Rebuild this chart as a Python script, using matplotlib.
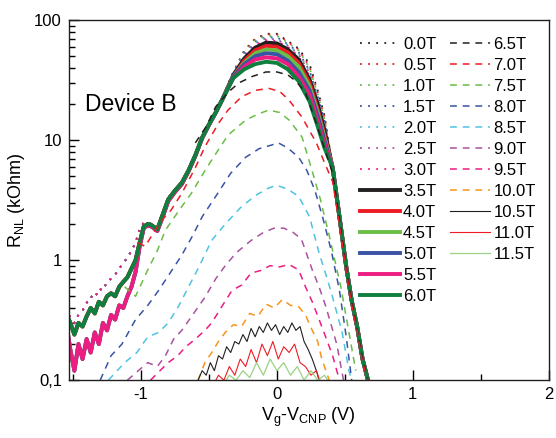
import matplotlib
matplotlib.use('Agg')
import matplotlib.pyplot as plt
from matplotlib.ticker import FixedLocator, LogLocator, NullFormatter

plt.rcParams['font.family'] = ['Liberation Sans', 'DejaVu Sans']
plt.rcParams['mathtext.default'] = 'regular'
plt.rcParams['axes.unicode_minus'] = False

# ---- data (x in V, R in kOhm) ----
# left flank of the 0.0T..6.0T bundle (three variants of the noisy tail)
left_x = [-1.55, -1.52, -1.49, -1.46, -1.43, -1.40, -1.37, -1.34, -1.31, -1.28, -1.25,
          -1.22, -1.19, -1.16, -1.13, -1.10, -1.07, -1.04, -1.01, -0.98, -0.95, -0.92,
          -0.88, -0.84, -0.80, -0.75, -0.70, -0.65, -0.60, -0.55, -0.50, -0.45]
left_r = [0.36, 0.3, 0.24, 0.3, 0.28, 0.34, 0.4, 0.36, 0.45, 0.42, 0.5,
          0.53, 0.5, 0.6, 0.66, 0.72, 0.85, 1.0, 1.4, 1.9, 2.0, 1.95,
          1.8, 2.4, 3.2, 3.8, 4.4, 5.6, 7.5, 10.5, 13.5, 17]
left_r_low = [0.3, 0.18, 0.12, 0.2, 0.15, 0.22, 0.17, 0.25, 0.2, 0.3, 0.26,
              0.35, 0.32, 0.42, 0.4, 0.5, 0.6, 0.8, 1.3, 1.85, 1.95, 1.9,
              1.75, 2.3, 3.1, 3.7, 4.3, 5.5, 7.4, 10.4, 13.4, 17]
left_r_dot = [0.4, 0.33, 0.3, 0.35, 0.38, 0.44, 0.5, 0.48, 0.58, 0.56, 0.66,
              0.7, 0.76, 0.85, 0.95, 1.05, 1.2, 1.4, 1.8, 2.05, 2.05, 2.0,
              1.9, 2.5, 3.3, 3.9, 4.5, 5.7, 7.6, 10.6, 13.6, 17]
# peak part, one row per field
peak_x = [-0.40, -0.32, -0.24, -0.16, -0.08, 0.0, 0.08, 0.16, 0.24, 0.30, 0.35]
r_00 = [23, 37, 56, 70, 77, 77, 67, 58, 43, 26, 16]
r_05 = [23, 37, 55, 69, 76, 76, 66, 57, 41, 25, 15.5]
r_10 = [23, 36, 54, 68, 74, 74, 65, 56, 40, 24, 15]
r_15 = [23, 36, 53, 66, 72, 72, 63, 54, 38, 23, 14.5]
r_20 = [23, 36, 52, 65, 71, 70, 62, 53, 37, 23, 14]
r_25 = [23, 35, 51, 64, 70, 69, 61, 52, 36, 22, 13.5]
r_30 = [23, 35, 50, 62, 68, 67, 60, 50, 34, 21, 13]
r_35 = [22, 35, 48, 59, 65, 64, 57, 47, 32, 20, 12]
r_40 = [22, 34, 46, 56, 61, 60, 54, 44, 30, 18, 11]
r_45 = [22, 34, 44, 53, 57, 56, 50, 41, 28, 17, 10.5]
r_50 = [22, 34, 43, 50, 53, 52, 46, 37, 26, 16, 10]
r_55 = [22, 33, 41, 47, 49, 48, 43, 34, 24, 14.5, 9.3]
r_60 = [22, 33, 39, 43, 45, 44, 39, 31, 21, 13, 8.6]
# shared right flank
right_x = [0.41, 0.46, 0.51, 0.55, 0.59, 0.63, 0.67, 0.72]
right_r = [5.9, 2.3, 0.88, 0.46, 0.28, 0.15, 0.1, 0.08]

# high-field curves
x_65 = [-0.60, -0.52, -0.45, -0.36, -0.28, -0.18, -0.08, 0.0, 0.08, 0.14, 0.21,
        0.29, 0.35, 0.41, 0.46, 0.51, 0.55, 0.59, 0.63, 0.67]
r_65 = [9.5, 13, 19, 25, 30, 34, 37, 37, 35, 31, 25,
        13.8, 8.5, 5.3, 2.2, 0.85, 0.45, 0.27, 0.15, 0.1]
x_70 = [-1.02, -0.97, -0.90, -0.84, -0.78, -0.70, -0.60, -0.53, -0.43, -0.36, -0.26,
        -0.16, -0.06, 0.02, 0.09, 0.185, 0.24, 0.29, 0.35, 0.41, 0.46, 0.51, 0.55,
        0.59, 0.63, 0.67]
r_70 = [1.4, 1.3, 1.75, 2.2, 2.6, 3.6, 5.9, 8.8, 13.8, 17.8, 23,
        26, 27, 25.5, 21.5, 15.5, 12, 9.5, 6.5, 4.5, 2.0, 0.8, 0.42,
        0.26, 0.14, 0.1]
x_75 = [-1.12, -1.04, -0.95, -0.88, -0.82, -0.72, -0.63, -0.52, -0.44, -0.36, -0.23,
        -0.14, -0.06, 0.02, 0.09, 0.185, 0.26, 0.32, 0.385, 0.47, 0.53, 0.58]
r_75 = [0.6, 0.5, 0.83, 1.2, 1.78, 2.6, 3.6, 5.8, 8, 11, 14.7,
        16.5, 17.8, 17, 14.7, 10.6, 5.5, 3.2, 1.6, 0.6, 0.25, 0.12]
x_80 = [-1.30, -1.22, -1.14, -1.04, -0.95, -0.87, -0.78, -0.70, -0.62, -0.55, -0.45,
        -0.34, -0.23, -0.13, -0.04, 0.01, 0.08, 0.16, 0.22, 0.28, 0.34, 0.40, 0.46,
        0.51, 0.55]
r_80 = [0.1, 0.16, 0.2, 0.32, 0.42, 0.56, 0.8, 1.1, 1.6, 2.3, 3.4,
        5.3, 7.2, 8.5, 9.1, 9.5, 8.6, 7.2, 5.6, 3.8, 2.2, 1.2, 0.56,
        0.23, 0.1]
x_85 = [-1.24, -1.12, -1.03, -0.95, -0.87, -0.80, -0.72, -0.65, -0.58, -0.48, -0.38,
        -0.26, -0.15, -0.06, 0.0, 0.08, 0.16, 0.24, 0.31, 0.37, 0.41, 0.48, 0.53, 0.56]
r_85 = [0.1, 0.14, 0.17, 0.23, 0.25, 0.3, 0.42, 0.6, 0.85, 1.46, 2.0,
        2.8, 3.5, 4.0, 4.2, 3.9, 3.4, 2.3, 1.15, 0.7, 0.49, 0.25, 0.12, 0.09]
x_90 = [-1.10, -1.02, -0.95, -0.88, -0.82, -0.76, -0.70, -0.62, -0.53, -0.45, -0.38,
        -0.30, -0.19, -0.10, -0.02, 0.05, 0.12, 0.18, 0.26, 0.31, 0.36, 0.44, 0.49]
r_90 = [0.1, 0.12, 0.14, 0.13, 0.16, 0.22, 0.26, 0.35, 0.49, 0.7, 0.9,
        1.15, 1.46, 1.7, 1.85, 1.85, 1.7, 1.5, 0.83, 0.6, 0.41, 0.2, 0.1]
x_95 = [-0.93, -0.86, -0.80, -0.73, -0.67, -0.60, -0.53, -0.48, -0.40, -0.33, -0.26,
        -0.19, -0.12, -0.05, 0.02, 0.09, 0.16, 0.21, 0.26, 0.33, 0.41, 0.46]
r_95 = [0.1, 0.12, 0.14, 0.16, 0.19, 0.22, 0.26, 0.3, 0.42, 0.56, 0.62,
        0.78, 0.82, 0.9, 0.88, 0.92, 0.83, 0.6, 0.45, 0.28, 0.16, 0.1]
x_100 = [-0.58, -0.53, -0.48, -0.43, -0.38, -0.32, -0.26, -0.20, -0.14, -0.08, -0.02,
         0.04, 0.10, 0.16, 0.21, 0.26, 0.30, 0.33, 0.385]
r_100 = [0.1, 0.14, 0.17, 0.21, 0.25, 0.29, 0.28, 0.36, 0.34, 0.43, 0.40,
         0.47, 0.42, 0.41, 0.35, 0.26, 0.21, 0.15, 0.1]
x_105 = [-0.58, -0.55, -0.52, -0.49, -0.46, -0.43, -0.40, -0.37, -0.34, -0.31, -0.28,
         -0.25, -0.22, -0.19, -0.16, -0.13, -0.10, -0.07, -0.04, -0.01, 0.02, 0.05,
         0.08, 0.11, 0.14, 0.17, 0.20, 0.23, 0.26, 0.29, 0.31]
r_105 = [0.1, 0.12, 0.11, 0.14, 0.12, 0.16, 0.15, 0.19, 0.17, 0.21, 0.2,
         0.24, 0.21, 0.27, 0.23, 0.28, 0.25, 0.3, 0.26, 0.29, 0.24, 0.28,
         0.25, 0.3, 0.26, 0.28, 0.21, 0.18, 0.15, 0.12, 0.1]
x_110 = [-0.47, -0.43, -0.39, -0.35, -0.31, -0.27, -0.23, -0.19, -0.15, -0.11, -0.07,
         -0.03, 0.01, 0.05, 0.09, 0.13, 0.17, 0.21, 0.25, 0.29, 0.33]
r_110 = [0.09, 0.11, 0.1, 0.13, 0.11, 0.15, 0.13, 0.18, 0.14, 0.2, 0.16,
         0.21, 0.15, 0.19, 0.17, 0.2, 0.14, 0.13, 0.11, 0.12, 0.09]
x_115 = [-0.40, -0.35, -0.30, -0.25, -0.20, -0.15, -0.10, -0.05, 0.0, 0.05, 0.10,
         0.15, 0.20, 0.25, 0.30, 0.35, 0.40]
r_115 = [0.09, 0.11, 0.1, 0.12, 0.105, 0.14, 0.11, 0.15, 0.12, 0.14, 0.11,
         0.13, 0.1, 0.12, 0.1, 0.11, 0.09]

# colours
black = '#231f20'
red = '#ed1c24'
green = '#6abd45'
blue = '#3a53a4'
cyan = '#4fc3e0'
purple = '#aa529f'
pink = '#ec1c81'
dkgreen = '#0e7f3e'
orange = '#f7941d'
ltgreen = '#9ad184'

dotted = (0, (1, 3.5))
dashed = (0, (4.5, 3.8))

fig, ax = plt.subplots(figsize=(5.56, 4.38), dpi=100)
fig.subplots_adjust(left=0.124, right=0.987, bottom=0.132, top=0.954)

# low field bundle
bundle = [('0.0T', left_r_dot, r_00, black, dotted, 1.3),
          ('0.5T', left_r_dot, r_05, red, dotted, 1.3),
          ('1.0T', left_r_dot, r_10, green, dotted, 1.3),
          ('1.5T', left_r_dot, r_15, blue, dotted, 1.3),
          ('2.0T', left_r_dot, r_20, cyan, dotted, 1.3),
          ('2.5T', left_r_dot, r_25, purple, dotted, 1.3),
          ('3.0T', left_r_dot, r_30, pink, dotted, 1.3),
          ('3.5T', left_r, r_35, black, '-', 2.8),
          ('4.0T', left_r, r_40, red, '-', 2.8),
          ('4.5T', left_r_low, r_45, green, '-', 2.8),
          ('5.0T', left_r_low, r_50, blue, '-', 2.8),
          ('5.5T', left_r_low, r_55, pink, '-', 2.8),
          ('6.0T', left_r, r_60, dkgreen, '-', 2.8)]
h1 = []
for label, flank, peak, c, ls, lw in bundle:
    line, = ax.plot(left_x + peak_x + right_x, flank + peak + right_r,
                    color=c, ls=ls, lw=lw, label=label)
    h1.append(line)

# high field curves
others = [('6.5T', x_65, r_65, black, dashed, 1.1), ('7.0T', x_70, r_70, red, dashed, 1.1),
          ('7.5T', x_75, r_75, green, dashed, 1.1), ('8.0T', x_80, r_80, blue, dashed, 1.1),
          ('8.5T', x_85, r_85, cyan, dashed, 1.1), ('9.0T', x_90, r_90, purple, dashed, 1.1),
          ('9.5T', x_95, r_95, pink, dashed, 1.1), ('10.0T', x_100, r_100, orange, dashed, 1.1),
          ('10.5T', x_105, r_105, black, '-', 0.8), ('11.0T', x_110, r_110, red, '-', 0.8),
          ('11.5T', x_115, r_115, ltgreen, '-', 0.9)]
h2 = []
for label, xs, rs, c, ls, lw in others:
    line, = ax.plot(xs, rs, color=c, ls=ls, lw=lw, label=label)
    h2.append(line)

ax.set_yscale('log')
ax.set_ylim(0.1, 100)
ax.set_xlim(-1.53, 2.0)

ax.xaxis.set_major_locator(FixedLocator([-1, 0, 1, 2]))
ax.xaxis.set_minor_locator(FixedLocator([-1.5, -0.5, 0.5, 1.5]))
ax.set_yticks([0.1, 1, 10, 100])
ax.set_yticklabels(['0,1', '1', '10', '100'])
ax.yaxis.set_minor_locator(LogLocator(base=10, subs=range(2, 10)))
ax.yaxis.set_minor_formatter(NullFormatter())
ax.tick_params(which='both', direction='in', top=False, right=False, labelsize=12,
               width=1, pad=5)
ax.tick_params(which='major', length=7)
ax.tick_params(which='minor', length=4)
for s in ax.spines.values():
    s.set_linewidth(1.0)
    s.set_color('#231f20')

ax.set_xlabel('V$_g$-V$_{CNP}$ (V)', fontsize=13, labelpad=3)
ax.set_ylabel('R$_{NL}$ (kOhm)', fontsize=13, labelpad=5)

ax.text(0.033, 0.765, 'Device B', transform=ax.transAxes, fontsize=16.5,
        ha='left', va='center')

# legend in two separate columns (13 + 11 entries)
leg_kw = dict(loc='upper left', frameon=False, fontsize=12, handlelength=2.4,
              handletextpad=0.2, labelspacing=0.36, borderpad=0, borderaxespad=0)
leg1 = ax.legend(handles=h1, bbox_to_anchor=(0.606, 0.954), **leg_kw)
ax.add_artist(leg1)
ax.legend(handles=h2, bbox_to_anchor=(0.794, 0.954), **leg_kw)

fig.savefig('out.png', dpi=100)
